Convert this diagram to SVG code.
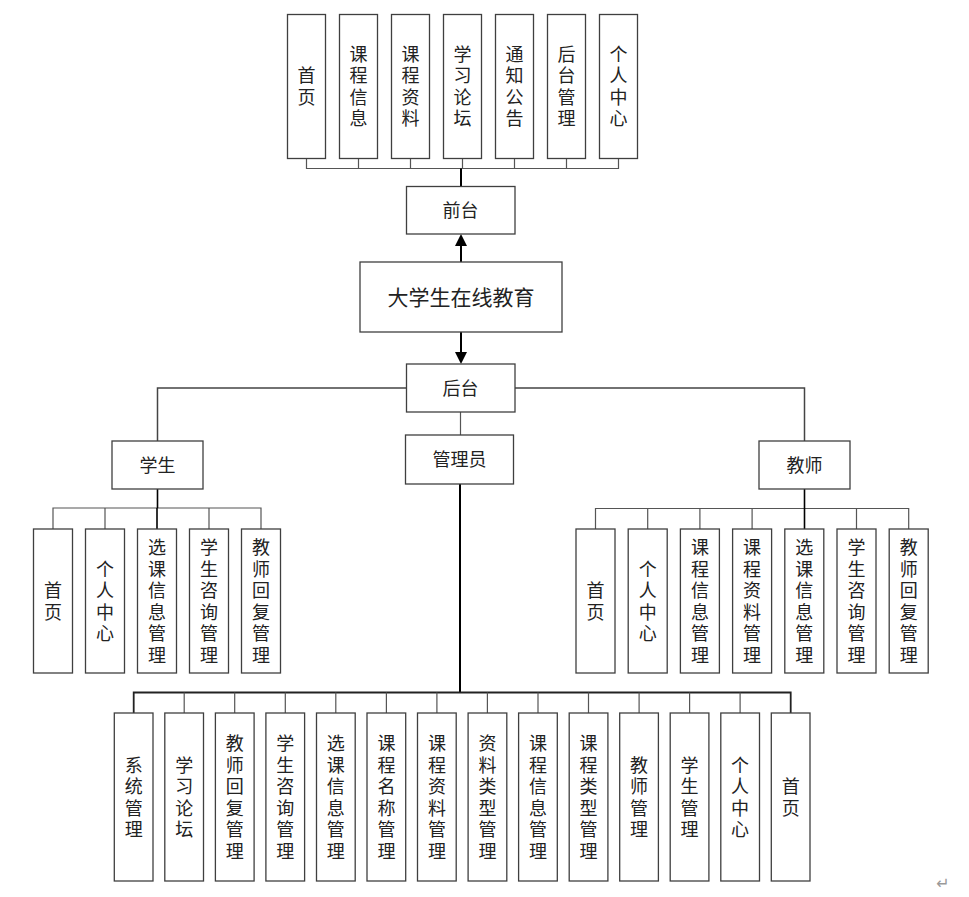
<svg xmlns="http://www.w3.org/2000/svg" width="969" height="897" viewBox="0 0 969 897">
<defs>
<style>
.box{fill:#fff;stroke:#3f3f3f;stroke-width:1.3}
.t{font-family:"Noto Sans CJK SC","Noto Sans",sans-serif;font-size:18px;fill:#222;text-anchor:middle}
.v{writing-mode:vertical-rl;text-orientation:upright;letter-spacing:3.5px}
.title{font-size:21px}
.thin{stroke:#555;stroke-width:1.2;fill:none}
.thick{stroke:#000;stroke-width:2;fill:none}
.mid{stroke:#444;stroke-width:1.5;fill:none}
</style>
<marker id="arr" viewBox="0 0 12 12" refX="6" refY="6" markerWidth="12" markerHeight="12" markerUnits="userSpaceOnUse" orient="auto">
<path d="M0,0 L12,6 L0,12 z" fill="#000"/>
</marker>
</defs>
<rect width="969" height="897" fill="#fff"/>

<g id="connectors">
<path class="thin" d="M306.5,158.5V168.5H618.5V158.5M358.5,158.5V168.5M410.5,158.5V168.5M462.5,158.5V168.5M514.5,158.5V168.5M566.5,158.5V168.5"/>
<path class="thick" d="M461,168.5V186"/>
<line class="thick" x1="461" y1="262" x2="461" y2="240" marker-end="url(#arr)"/>
<line class="thick" x1="461" y1="332" x2="461" y2="358" marker-end="url(#arr)"/>
<path class="mid" d="M406,388H157.5V441M515,388H804.5V441"/>
<path class="thin" d="M460.5,412V435"/>
<path class="thin" d="M53,529V508H261V529M105,508V529M209,508V529"/>
<path class="thick" d="M157.5,489V508M157,508V529" style="stroke-width:1.6"/>
<path class="thin" d="M595.5,529V508.5H908.7V529M647.7,508.5V529M699.9,508.5V529M752.1,508.5V529M856.5,508.5V529"/>
<path class="thick" d="M804.5,489V529" style="stroke-width:1.6"/>
<path class="thick" d="M460,484V692.5"/>
<path class="mid" d="M133.7,713V692.5H790.7V713" style="stroke-width:1.8;stroke:#222"/>
<path class="thin" d="M184.2,692.5V713M234.7,692.5V713M285.3,692.5V713M335.8,692.5V713M386.4,692.5V713M436.9,692.5V713M487.4,692.5V713M538,692.5V713M588.5,692.5V713M639.1,692.5V713M689.6,692.5V713M740.1,692.5V713"/>
</g>

<g id="f1"><rect class="box" x="287.5" y="14.5" width="38" height="144"/><text class="t v" x="306.5" y="87.75">首页</text></g>
<g id="f2"><rect class="box" x="339.5" y="14.5" width="38" height="144"/><text class="t v" x="358.5" y="87.75">课程信息</text></g>
<g id="f3"><rect class="box" x="391.5" y="14.5" width="38" height="144"/><text class="t v" x="410.5" y="87.75">课程资料</text></g>
<g id="f4"><rect class="box" x="443.5" y="14.5" width="38" height="144"/><text class="t v" x="462.5" y="87.75">学习论坛</text></g>
<g id="f5"><rect class="box" x="495.5" y="14.5" width="38" height="144"/><text class="t v" x="514.5" y="87.75">通知公告</text></g>
<g id="f6"><rect class="box" x="547.5" y="14.5" width="38" height="144"/><text class="t v" x="566.5" y="87.75">后台管理</text></g>
<g id="f7"><rect class="box" x="599.5" y="14.5" width="38" height="144"/><text class="t v" x="618.5" y="87.75">个人中心</text></g>

<g id="frontend"><rect class="box" x="406.5" y="186.5" width="108.5" height="47.5"/><text class="t" x="460.5" y="216.5">前台</text></g>
<g id="root"><rect class="box" x="360" y="262" width="202" height="70"/><text class="t title" x="461" y="304.5">大学生在线教育</text></g>
<g id="backend"><rect class="box" x="406.5" y="364" width="108.5" height="48"/><text class="t" x="460.5" y="394.5">后台</text></g>
<g id="admin"><rect class="box" x="405.5" y="435" width="108" height="49"/><text class="t" x="459.5" y="466">管理员</text></g>
<g id="student"><rect class="box" x="112" y="441" width="91" height="48"/><text class="t" x="157.5" y="471.5">学生</text></g>
<g id="teacher"><rect class="box" x="759" y="441" width="91" height="48"/><text class="t" x="804.5" y="471.5">教师</text></g>

<g id="s1"><rect class="box" x="33.5" y="529" width="39" height="144"/><text class="t v" x="53" y="602.75">首页</text></g>
<g id="s2"><rect class="box" x="85.5" y="529" width="39" height="144"/><text class="t v" x="105" y="602.75">个人中心</text></g>
<g id="s3"><rect class="box" x="137.5" y="529" width="39" height="144"/><text class="t v" x="157" y="602.75">选课信息管理</text></g>
<g id="s4"><rect class="box" x="189.5" y="529" width="39" height="144"/><text class="t v" x="209" y="602.75">学生咨询管理</text></g>
<g id="s5"><rect class="box" x="241.5" y="529" width="39" height="144"/><text class="t v" x="261" y="602.75">教师回复管理</text></g>

<g id="t1"><rect class="box" x="576" y="529" width="39" height="144"/><text class="t v" x="595.5" y="602.75">首页</text></g>
<g id="t2"><rect class="box" x="628.2" y="529" width="39" height="144"/><text class="t v" x="647.7" y="602.75">个人中心</text></g>
<g id="t3"><rect class="box" x="680.4" y="529" width="39" height="144"/><text class="t v" x="699.9" y="602.75">课程信息管理</text></g>
<g id="t4"><rect class="box" x="732.6" y="529" width="39" height="144"/><text class="t v" x="752.1" y="602.75">课程资料管理</text></g>
<g id="t5"><rect class="box" x="784.8" y="529" width="39" height="144"/><text class="t v" x="804.3" y="602.75">选课信息管理</text></g>
<g id="t6"><rect class="box" x="837" y="529" width="39" height="144"/><text class="t v" x="856.5" y="602.75">学生咨询管理</text></g>
<g id="t7"><rect class="box" x="889.2" y="529" width="39" height="144"/><text class="t v" x="908.7" y="602.75">教师回复管理</text></g>

<g id="a1"><rect class="box" x="114.3" y="713" width="38.7" height="168"/><text class="t v" x="133.7" y="798.75">系统管理</text></g>
<g id="a2"><rect class="box" x="164.8" y="713" width="38.7" height="168"/><text class="t v" x="184.2" y="798.75">学习论坛</text></g>
<g id="a3"><rect class="box" x="215.4" y="713" width="38.7" height="168"/><text class="t v" x="234.7" y="798.75">教师回复管理</text></g>
<g id="a4"><rect class="box" x="265.9" y="713" width="38.7" height="168"/><text class="t v" x="285.3" y="798.75">学生咨询管理</text></g>
<g id="a5"><rect class="box" x="316.5" y="713" width="38.7" height="168"/><text class="t v" x="335.8" y="798.75">选课信息管理</text></g>
<g id="a6"><rect class="box" x="367" y="713" width="38.7" height="168"/><text class="t v" x="386.4" y="798.75">课程名称管理</text></g>
<g id="a7"><rect class="box" x="417.5" y="713" width="38.7" height="168"/><text class="t v" x="436.9" y="798.75">课程资料管理</text></g>
<g id="a8"><rect class="box" x="468.1" y="713" width="38.7" height="168"/><text class="t v" x="487.4" y="798.75">资料类型管理</text></g>
<g id="a9"><rect class="box" x="518.6" y="713" width="38.7" height="168"/><text class="t v" x="538" y="798.75">课程信息管理</text></g>
<g id="a10"><rect class="box" x="569.2" y="713" width="38.7" height="168"/><text class="t v" x="588.5" y="798.75">课程类型管理</text></g>
<g id="a11"><rect class="box" x="619.7" y="713" width="38.7" height="168"/><text class="t v" x="639.1" y="798.75">教师管理</text></g>
<g id="a12"><rect class="box" x="670.2" y="713" width="38.7" height="168"/><text class="t v" x="689.6" y="798.75">学生管理</text></g>
<g id="a13"><rect class="box" x="720.8" y="713" width="38.7" height="168"/><text class="t v" x="740.1" y="798.75">个人中心</text></g>
<g id="a14"><rect class="box" x="771.3" y="713" width="38.7" height="168"/><text class="t v" x="790.7" y="798.75">首页</text></g>

<text x="943" y="889" font-family="DejaVu Sans,sans-serif" font-size="16" fill="#999" text-anchor="middle">↵</text>
</svg>
